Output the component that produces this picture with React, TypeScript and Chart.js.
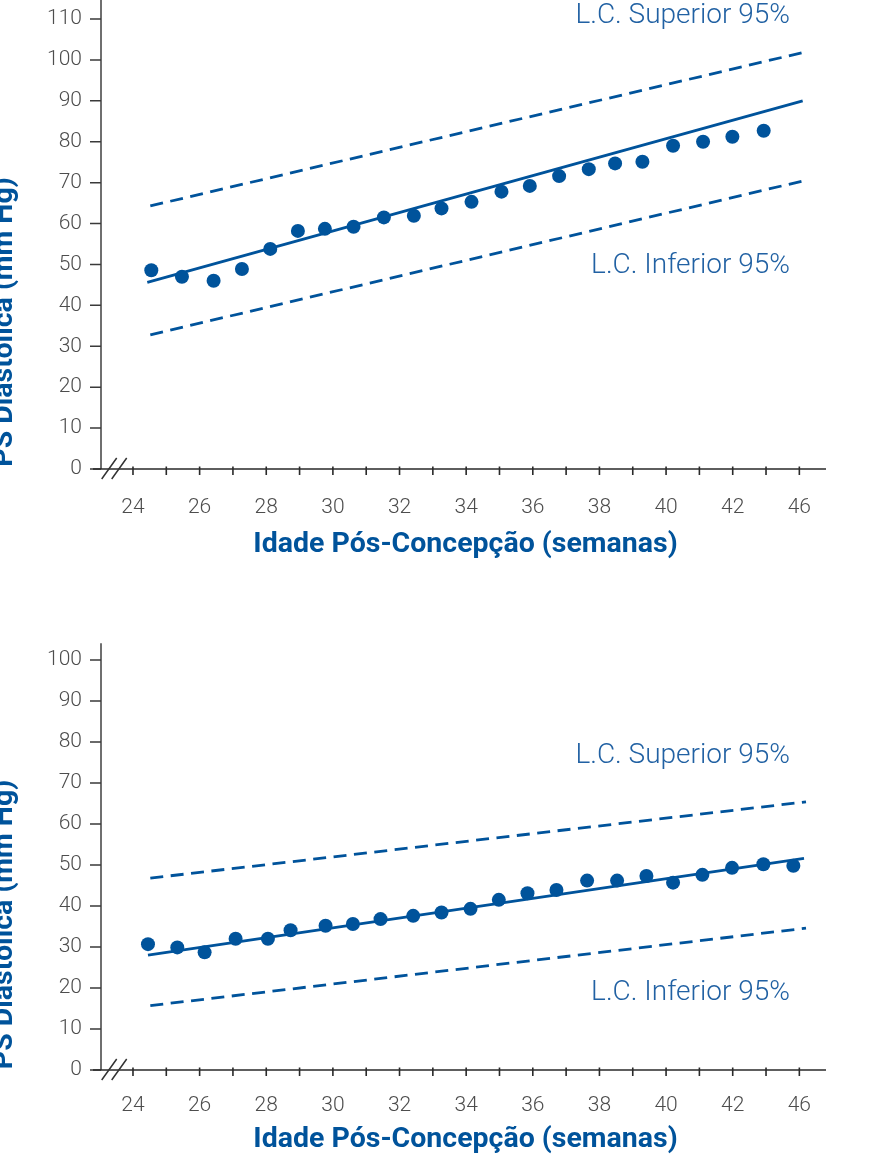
import React, { useEffect, useRef } from "react";
import { Chart, registerables } from "chart.js";

Chart.register(...registerables);
Chart.defaults.font.family = "Roboto, 'Noto Sans', sans-serif";

const BLUE = "#00539b";
const LABEL_BLUE = "#2161a3";
const TICK_GRAY = "#4d4d4d";

// ---------- top chart data ----------
const topWeeks = [24.55, 25.47, 26.42, 27.27, 28.12, 28.95, 29.76, 30.62, 31.53, 32.43, 33.26, 34.16, 35.06, 35.91, 36.79, 37.68, 38.47, 39.29, 40.21, 41.11, 41.99, 42.93];
const topDiastolic = [48.6, 47.0, 46.0, 48.9, 53.8, 58.2, 58.7, 59.2, 61.5, 61.9, 63.7, 65.3, 67.8, 69.2, 71.6, 73.3, 74.7, 75.1, 79.0, 80.0, 81.2, 82.7];
const topFitWeeks = [24.43, 44.1];
const topFit = [45.6, 90.0];
const topLimitWeeks = [24.52, 44.1];
const topUpper = [64.3, 101.8];
const topLower = [32.8, 70.4];
const topYTicks = [0, 10, 20, 30, 40, 50, 60, 70, 80, 90, 100, 110];

// ---------- bottom chart data ----------
const bottomWeeks = [24.45, 25.33, 26.15, 27.08, 28.05, 28.73, 29.78, 30.6, 31.43, 32.41, 33.26, 34.13, 34.98, 35.84, 36.71, 37.63, 38.53, 39.41, 40.21, 41.09, 41.98, 42.92, 43.82];
const bottomDiastolic = [30.7, 29.9, 28.7, 32.0, 32.0, 34.1, 35.2, 35.6, 36.8, 37.6, 38.4, 39.3, 41.5, 43.1, 43.9, 46.2, 46.2, 47.3, 45.7, 47.6, 49.3, 50.2, 49.8];
const bottomFitWeeks = [24.45, 44.14];
const bottomFit = [28.0, 51.6];
const bottomLimitWeeks = [24.52, 44.2];
const bottomUpper = [46.8, 65.4];
const bottomLower = [15.7, 34.6];
const bottomYTicks = [0, 10, 20, 30, 40, 50, 60, 70, 80, 90, 100];

// ---------- shared axis ticks ----------
const xMinorTicks = [24, 25, 26, 27, 28, 29, 30, 31, 32, 33, 34, 35, 36, 37, 38, 39, 40, 41, 42, 43, 44];
const xLabelValues = [24, 26, 28, 30, 32, 34, 36, 38, 40, 42, 44];
const xTickLabels = ["24", "26", "28", "30", "32", "34", "36", "38", "40", "42", "46"];

const X_TITLE = "Idade Pós-Concepção (semanas)";
const Y_TITLE = "PS Diastólica (mm Hg)";
const UPPER_LABEL = "L.C. Superior 95%";
const LOWER_LABEL = "L.C. Inferior 95%";

const FONT_STACK = "Roboto, 'Noto Sans', sans-serif";

const decorPlugin = {
  id: "decor",
  beforeDatasetsDraw(chart: any, _args: any, opts: any) {
    const { ctx, chartArea } = chart;
    const x = chart.scales.x;
    const y = chart.scales.y;
    const axisX = Math.round(x.getPixelForValue(opts.yAxisAtWeek));
    const top = Math.max(0, y.getPixelForValue(opts.axisTopValue));
    const bottom = Math.round(chartArea.bottom);
    ctx.save();
    // y axis line
    ctx.strokeStyle = "#6f6f6f";
    ctx.lineWidth = 2;
    ctx.beginPath();
    ctx.moveTo(axisX, top);
    ctx.lineTo(axisX, bottom);
    ctx.stroke();
    // y ticks
    ctx.strokeStyle = "#3a3a3a";
    ctx.lineWidth = 1.5;
    ctx.beginPath();
    for (const v of opts.yTicks) {
      const py = y.getPixelForValue(v);
      ctx.moveTo(axisX - 11, py);
      ctx.lineTo(axisX, py);
    }
    ctx.stroke();
    // x axis
    ctx.strokeStyle = "#2a2a2a";
    ctx.lineWidth = 1.6;
    ctx.beginPath();
    ctx.moveTo(chartArea.left, bottom);
    ctx.lineTo(chartArea.right, bottom);
    for (const w of xMinorTicks) {
      const px = x.getPixelForValue(w);
      ctx.moveTo(px, bottom - 2.5);
      ctx.lineTo(px, bottom + 6);
    }
    ctx.stroke();
    // axis break marks
    ctx.strokeStyle = "#333333";
    ctx.lineWidth = 1.5;
    ctx.beginPath();
    for (const dx of [0.7, 10.7]) {
      ctx.moveTo(axisX + dx, bottom + 10);
      ctx.lineTo(axisX + dx + 15, bottom - 11);
    }
    ctx.stroke();
    ctx.restore();
  },
  afterDraw(chart: any, _args: any, opts: any) {
    const { ctx, chartArea } = chart;
    const x = chart.scales.x;
    const y = chart.scales.y;
    // x title
    ctx.save();
    ctx.fillStyle = BLUE;
    ctx.font = `bold 28.5px ${FONT_STACK}`;
    ctx.textAlign = "center";
    ctx.textBaseline = "alphabetic";
    ctx.fillText(X_TITLE, opts.xTitleX, chartArea.bottom + opts.xTitleBaseline);
    ctx.restore();
    // rotated y title (partly outside the page, as in the source)
    ctx.save();
    ctx.fillStyle = BLUE;
    ctx.font = `bold 28.5px ${FONT_STACK}`;
    ctx.translate(opts.yTitleX, opts.yTitleCenter);
    ctx.rotate(-Math.PI / 2);
    ctx.textAlign = "center";
    ctx.textBaseline = "alphabetic";
    ctx.fillText(Y_TITLE, 0, 0);
    ctx.restore();
    // confidence limit labels
    ctx.save();
    ctx.fillStyle = LABEL_BLUE;
    ctx.font = `300 28px ${FONT_STACK}`;
    ctx.textAlign = "right";
    ctx.textBaseline = "alphabetic";
    for (const lab of opts.labels) {
      ctx.fillText(lab.text, x.getPixelForValue(lab.week), y.getPixelForValue(lab.value));
    }
    ctx.restore();
  },
};

type Spec = {
  weeks: number[];
  values: number[];
  fitWeeks: number[];
  fit: number[];
  limitWeeks: number[];
  upper: number[];
  lower: number[];
  yTicks: number[];
  yMax: number;
  axisTopValue: number;
  padTop: number;
  xScaleHeight: number;
  xTickPad: number;
  xTitleBaseline: number;
  yTitleCenter: number;
  labels: { text: string; week: number; value: number }[];
};

function pts(xs: number[], ys: number[]) {
  return xs.map((w, i) => ({ x: w, y: ys[i] }));
}

function makeConfig(s: Spec): any {
  const tickFont = { family: FONT_STACK, size: 21, weight: "300" as any };
  return {
    type: "scatter",
    data: {
      datasets: [
        {
          label: "PS",
          data: pts(s.weeks, s.values),
          showLine: false,
          pointRadius: 7,
          pointBackgroundColor: BLUE,
          pointBorderWidth: 0,
          clip: false,
        },
        {
          label: "fit",
          data: pts(s.fitWeeks, s.fit),
          showLine: true,
          borderColor: BLUE,
          borderWidth: 2.8,
          pointRadius: 0,
          clip: false,
        },
        {
          label: "upper",
          data: pts(s.limitWeeks, s.upper),
          showLine: true,
          borderColor: BLUE,
          borderWidth: 2.8,
          borderDash: [13, 7.5],
          pointRadius: 0,
          clip: false,
        },
        {
          label: "lower",
          data: pts(s.limitWeeks, s.lower),
          showLine: true,
          borderColor: BLUE,
          borderWidth: 2.8,
          borderDash: [13, 7.5],
          pointRadius: 0,
          clip: false,
        },
      ],
    },
    options: {
      animation: false,
      responsive: false,
      events: [],
      layout: { padding: { top: s.padTop, right: 58, bottom: 0, left: 0 } },
      plugins: {
        legend: { display: false },
        tooltip: { enabled: false },
        decor: {
          yAxisAtWeek: 23.04,
          axisTopValue: s.axisTopValue,
          yTicks: s.yTicks,
          yTitleX: 12,
          yTitleCenter: s.yTitleCenter,
          xTitleX: 465.5,
          xTitleBaseline: s.xTitleBaseline,
          labels: s.labels,
        },
      },
      scales: {
        x: {
          type: "linear",
          min: 22.8,
          max: 44.8,
          afterBuildTicks: (sc: any) => {
            sc.ticks = xLabelValues.map((v) => ({ value: v }));
          },
          afterFit: (sc: any) => {
            sc.height = s.xScaleHeight;
            sc.paddingLeft = 0;
            sc.paddingRight = 0;
          },
          grid: { display: false, drawTicks: false },
          border: { display: false },
          ticks: {
            autoSkip: false,
            maxRotation: 0,
            padding: s.xTickPad,
            font: tickFont,
            color: TICK_GRAY,
            callback: (_v: any, i: number) => xTickLabels[i],
          },
        },
        y: {
          type: "linear",
          min: 0,
          max: s.yMax,
          afterBuildTicks: (sc: any) => {
            sc.ticks = s.yTicks.map((v) => ({ value: v }));
          },
          afterFit: (sc: any) => {
            sc.width = 93;
            sc.paddingTop = 0;
            sc.paddingBottom = 0;
          },
          grid: { display: false, drawTicks: false },
          border: { display: false },
          ticks: { autoSkip: false, padding: 11, font: tickFont, color: TICK_GRAY },
        },
      },
    },
    plugins: [decorPlugin],
  };
}

const topSpec: Spec = {
  weeks: topWeeks,
  values: topDiastolic,
  fitWeeks: topFitWeeks,
  fit: topFit,
  limitWeeks: topLimitWeeks,
  upper: topUpper,
  lower: topLower,
  yTicks: topYTicks,
  yMax: 110,
  axisTopValue: 116,
  padTop: 19,
  xScaleHeight: 111,
  xTickPad: 26,
  xTitleBaseline: 83,
  yTitleCenter: 322,
  labels: [
    { text: UPPER_LABEL, week: 43.72, value: 109.0 },
    { text: LOWER_LABEL, week: 43.72, value: 47.9 },
  ],
};

const bottomSpec: Spec = {
  weeks: bottomWeeks,
  values: bottomDiastolic,
  fitWeeks: bottomFitWeeks,
  fit: bottomFit,
  limitWeeks: bottomLimitWeeks,
  upper: bottomUpper,
  lower: bottomLower,
  yTicks: bottomYTicks,
  yMax: 100,
  axisTopValue: 104.1,
  padTop: 80,
  xScaleHeight: 95,
  xTickPad: 23,
  xTitleBaseline: 77,
  yTitleCenter: 344.5,
  labels: [
    { text: UPPER_LABEL, week: 43.72, value: 74.9 },
    { text: LOWER_LABEL, week: 43.72, value: 17.1 },
  ],
};

function ChartCanvas({ spec, width, height, top }: { spec: Spec; width: number; height: number; top: number }) {
  const ref = useRef<HTMLCanvasElement | null>(null);
  useEffect(() => {
    if (!ref.current) return;
    const chart = new Chart(ref.current, makeConfig(spec));
    return () => chart.destroy();
  }, [spec]);
  return (
    <canvas
      ref={ref}
      width={width}
      height={height}
      style={{ position: "absolute", left: 0, top, width, height, display: "block" }}
    />
  );
}

export default function App() {
  return (
    <div style={{ position: "absolute", left: 0, top: 0, width: 884, height: 1165, background: "#fff", overflow: "hidden" }}>
      <ChartCanvas spec={topSpec} width={884} height={580} top={0} />
      <ChartCanvas spec={bottomSpec} width={884} height={585} top={580} />
    </div>
  );
}
